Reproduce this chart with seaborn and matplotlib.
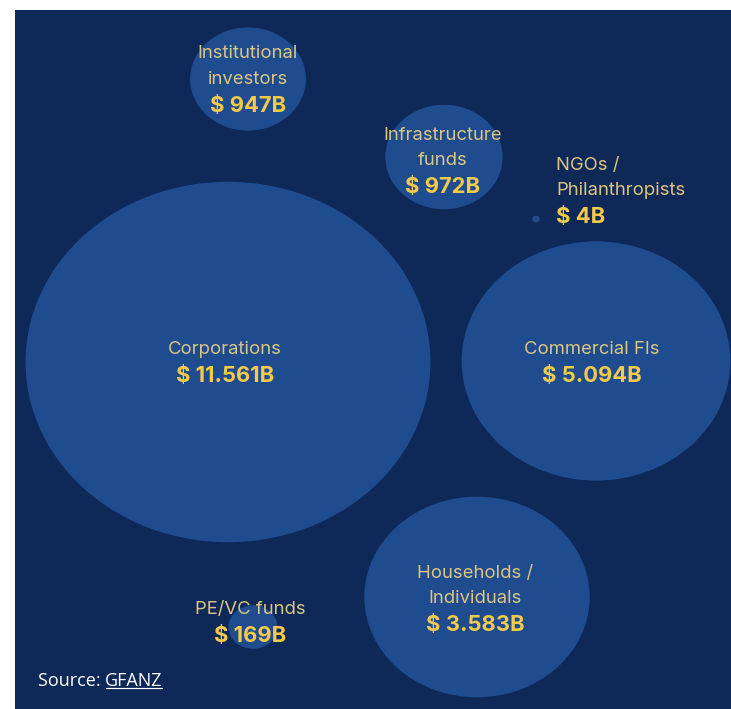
import numpy as np
import pandas as pd
import matplotlib
matplotlib.use("Agg")
import matplotlib.pyplot as plt
from matplotlib.path import Path
from matplotlib.transforms import Affine2D
import seaborn as sns

# ---- data ----
categories = ["Institutional\ninvestors", "Infrastructure\nfunds", "NGOs /\nPhilanthropists",
              "Corporations", "Commercial FIs", "Households /\nIndividuals", "PE/VC funds"]
values = [947, 972, 4, 11561, 5094, 3583, 169]
value_labels = ["$ 947B", "$ 972B", "$ 4B", "$ 11.561B", "$ 5.094B", "$ 3.583B", "$ 169B"]

# ---- layout (bubble centres in pixel space of the panel) ----
pos_x = [248, 444, 536, 228, 596, 477, 253]
pos_y = [79, 157, 219, 362, 361, 597, 627]

W, H = 731, 709
DPI = 72
BG = "#0e2857"
BUBBLE = "#1f4b8f"
LABEL_C = "#dcc67f"
VALUE_C = "#f3c94a"

sns.set_style("white")
plt.rcParams["font.family"] = ["Inter", "DejaVu Sans"]

fig = plt.figure(figsize=(W / DPI, H / DPI), dpi=DPI, facecolor="white")
ax = fig.add_axes([15 / W, 0, (W - 15) / W, (H - 10) / H])
ax.set_facecolor(BG)
ax.set_xlim(15, W)
ax.set_ylim(H, 10)
for s in ax.spines.values():
    s.set_visible(False)

df = pd.DataFrame({"x": pos_x, "y": pos_y, "value": values, "cat": categories})

ellipse = Affine2D().scale(1.0, 0.89).transform_path(Path.unit_circle())
k2 = (405.0 ** 2) / max(values)   # area (pt^2) per unit value
sns.scatterplot(data=df, x="x", y="y", size="value", sizes=(0, k2 * max(values)),
                size_norm=(0, max(values)), marker=ellipse, color=BUBBLE,
                edgecolor="none", linewidth=0, legend=False, ax=ax, zorder=2)
ax.set_xlabel("")
ax.set_ylabel("")
ax.set_xticks([])
ax.set_yticks([])

# ---- text placement ----
LINE = 25.5
label_style = dict(color=LABEL_C, fontsize=18.5, zorder=5)
value_style = dict(color=VALUE_C, fontsize=22, fontweight="bold", zorder=5)

# (anchor x, first line y, ha)
text_anchor = [(248, 54, "center"), (443, 135, "center"), (556, 165, "left"),
               (225, 350, "center"), (592, 350, "center"), (475, 573, "center"),
               (250, 610, "center")]

for cat, val, (tx, ty, ha) in zip(categories, value_labels, text_anchor):
    lines = cat.split("\n")
    for i, ln in enumerate(lines):
        ax.text(tx, ty + i * LINE, ln, ha=ha, va="center", **label_style)
    ax.text(tx, ty + len(lines) * LINE + 1, val, ha=ha, va="center", **value_style)

# source
src = ax.text(38, 681, "Source: ", ha="left", va="center", color="white",
              fontsize=18, family=["Open Sans", "DejaVu Sans"], zorder=5)
fig.canvas.draw()
r = fig.canvas.get_renderer()
bb = src.get_window_extent(r)
x_end = ax.transData.inverted().transform((bb.x1, bb.y0))[0]
link = ax.text(x_end, 681, "GFANZ", ha="left", va="center", color="white",
               fontsize=18, family=["Open Sans", "DejaVu Sans"], zorder=5)
bb2 = link.get_window_extent(r)
(lx0, ly), (lx1, _) = ax.transData.inverted().transform([(bb2.x0, bb2.y0 + 2), (bb2.x1, bb2.y0 + 2)])
ax.plot([lx0 + 1, lx1 - 1], [ly, ly], color="white", lw=1.2, zorder=5)

fig.savefig("out.png", dpi=DPI, facecolor="white")
